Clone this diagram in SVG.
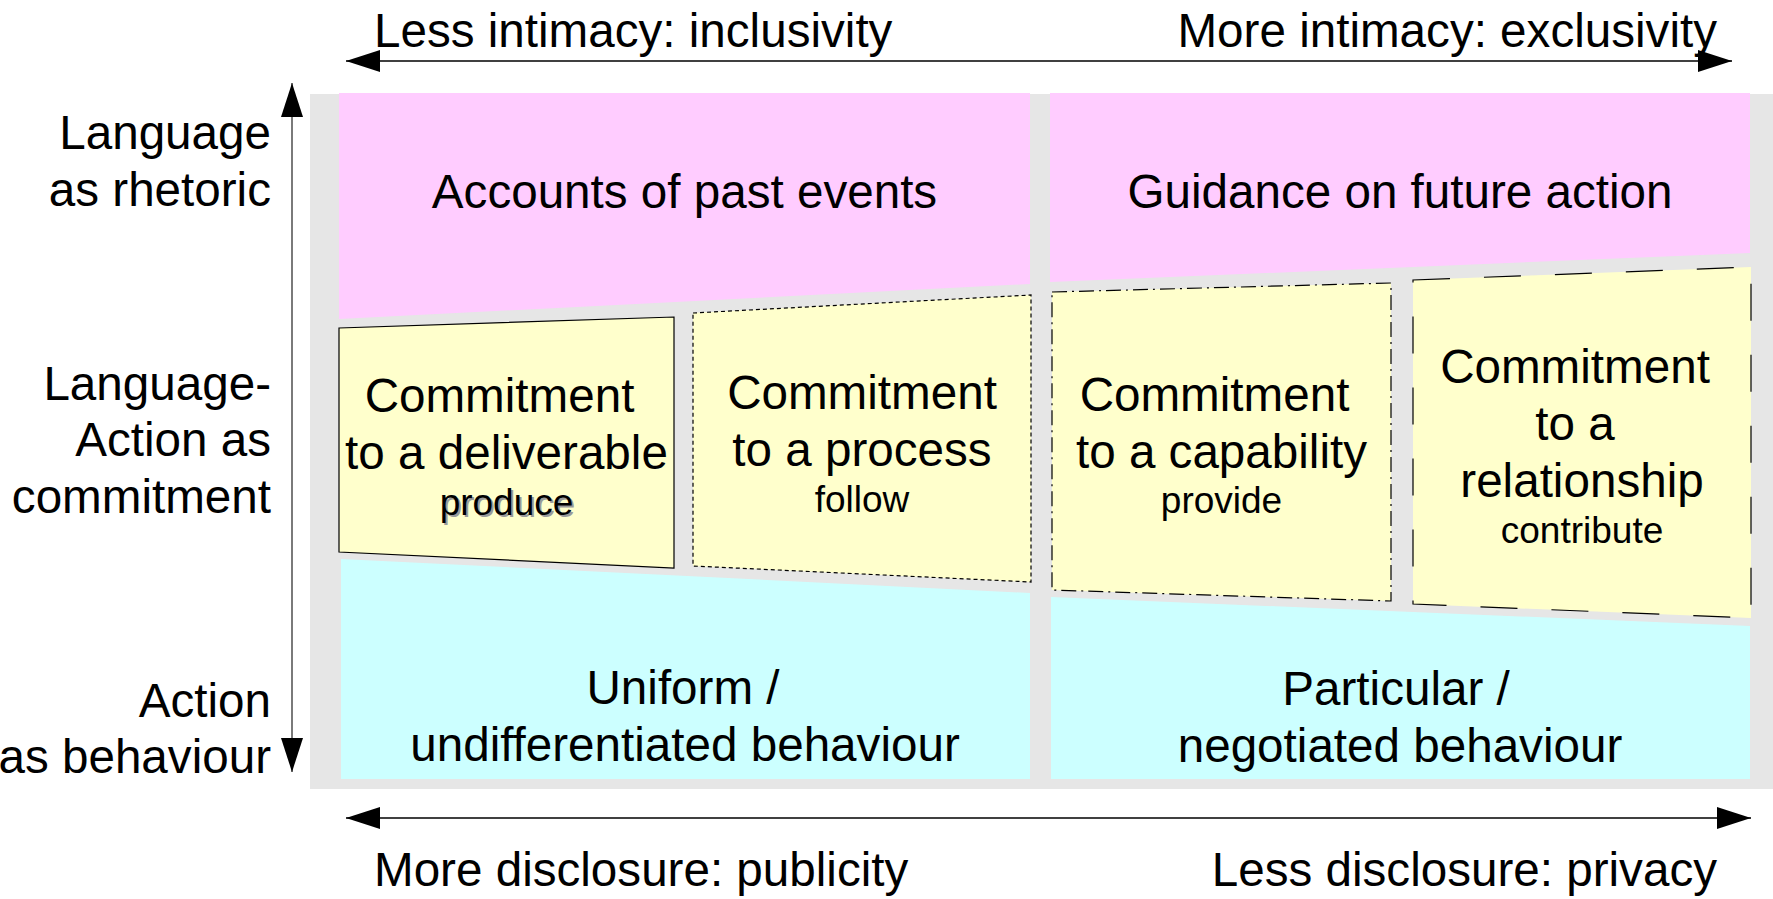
<svg xmlns="http://www.w3.org/2000/svg" width="1773" height="899" viewBox="0 0 1773 899">
  <defs>
    <marker id="head" viewBox="0 0 34 22" refX="34" refY="11" markerWidth="34" markerHeight="22" orient="auto-start-reverse" markerUnits="userSpaceOnUse">
      <path d="M0,0 L34,11 L0,22 z" fill="#000"/>
    </marker>
    <style>
      text { font-family: "Liberation Sans", Arial, sans-serif; fill: #000; }
      .big { font-size: 47.6px; }
      .small { font-size: 37px; }
      .mid { text-anchor: middle; }
      .end { text-anchor: end; }
      .rhetoric { fill: #ffccff; }
      .commit { fill: #ffffcc; stroke: #000; stroke-width: 1.2; }
      .behaviour { fill: #ccffff; }
      .shadow { fill: #9a9a9a; }
    </style>
  </defs>

  <rect width="1773" height="899" fill="#fff"/>

  <!-- grey backdrop behind the grid -->
  <rect id="backdrop" x="310" y="94" width="1463" height="695" fill="#e6e6e6"/>

  <!-- axis labels -->
  <g id="axis-labels" class="big">
    <text x="374" y="47">Less intimacy: inclusivity</text>
    <text class="end" x="1717" y="47">More intimacy: exclusivity</text>
    <text x="374" y="886">More disclosure: publicity</text>
    <text class="end" x="1717" y="886">Less disclosure: privacy</text>
    <text class="end" x="271" y="149">Language</text>
    <text class="end" x="271" y="206">as rhetoric</text>
    <text class="end" x="271" y="400">Language-</text>
    <text class="end" x="271" y="456">Action as</text>
    <text class="end" x="271" y="513">commitment</text>
    <text class="end" x="271" y="717">Action</text>
    <text class="end" x="271" y="773">as behaviour</text>
  </g>

  <!-- rhetoric row -->
  <g id="past-events">
    <polygon class="rhetoric" points="339,93 1030,93 1030,284 339,319"/>
    <text class="big mid" x="684.5" y="208">Accounts of past events</text>
  </g>
  <g id="future-action">
    <polygon class="rhetoric" points="1050,93 1750,93 1750,253 1050,282"/>
    <text class="big mid" x="1400" y="208">Guidance on future action</text>
  </g>

  <!-- commitment row -->
  <g id="deliverable">
    <polygon class="commit" points="339,328 674,317 674,568 339,552"/>
    <text class="big mid" x="499.5" y="412">Commitment</text>
    <text class="big mid" x="506.5" y="469">to a deliverable</text>
    <text class="small mid shadow" x="508.5" y="517">produce</text>
    <text class="small mid" x="506.5" y="515">produce</text>
  </g>
  <g id="process">
    <polygon class="commit" stroke-dasharray="4 3" points="693,313 1031,295 1031,582 693,566"/>
    <text class="big mid" x="862" y="409">Commitment</text>
    <text class="big mid" x="862" y="466">to a process</text>
    <text class="small mid" x="862" y="512">follow</text>
  </g>
  <g id="capability">
    <polygon class="commit" stroke-dasharray="15 5 2 5" points="1052,292 1391,283 1391,601 1052,590"/>
    <text class="big mid" x="1214.5" y="411">Commitment</text>
    <text class="big mid" x="1221.5" y="468">to a capability</text>
    <text class="small mid" x="1221.5" y="513">provide</text>
  </g>
  <g id="relationship">
    <polygon class="commit" stroke-dasharray="37 34" points="1413,280 1751,267 1751,618 1413,604"/>
    <text class="big mid" x="1575" y="383">Commitment</text>
    <text class="big mid" x="1575" y="440">to a</text>
    <text class="big mid" x="1582" y="497">relationship</text>
    <text class="small mid" x="1582" y="543">contribute</text>
  </g>

  <!-- behaviour row -->
  <g id="uniform">
    <polygon class="behaviour" points="341,559 1030,593 1030,779 341,779"/>
    <text class="big mid" x="683" y="704">Uniform /</text>
    <text class="big mid" x="685" y="761">undifferentiated behaviour</text>
  </g>
  <g id="negotiated">
    <polygon class="behaviour" points="1051,597 1750,626 1750,779 1051,779"/>
    <text class="big mid" x="1396" y="705">Particular /</text>
    <text class="big mid" x="1400" y="762">negotiated behaviour</text>
  </g>

  <!-- axis arrows -->
  <g id="connectors" fill="none">
    <path d="M346,61 L1732,61" stroke="#000" stroke-width="1.5" marker-start="url(#head)" marker-end="url(#head)"/>
    <path d="M346,818 L1751,818" stroke="#000" stroke-width="1.5" marker-start="url(#head)" marker-end="url(#head)"/>
    <path d="M292,83 L292,772" stroke="#7a7a7a" stroke-width="2" marker-start="url(#head)" marker-end="url(#head)"/>
  </g>
</svg>
